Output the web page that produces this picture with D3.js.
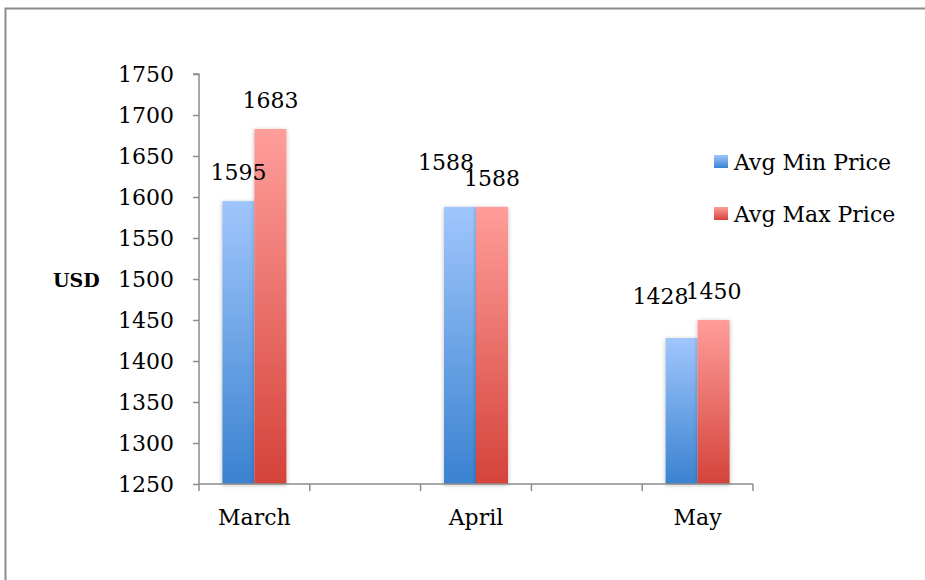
<!DOCTYPE html>
<html>
<head>
<meta charset="utf-8">
<script src="https://cdn.jsdelivr.net/npm/d3@7"></script>
<style>
  html, body { margin: 0; padding: 0; background: #fff; }
  svg { display: block; }
  text { font-family: "DejaVu Serif", "Liberation Serif", serif; fill: #000; }
</style>
</head>
<body>
<svg id="chart" width="925" height="580"></svg>
<script>
// Monthly price data (blank slots sit between the months on the axis)
const categories = ["March", "", "April", "", "May"];
const minPrice = [1595, null, 1588, null, 1428];
const maxPrice = [1683, null, 1588, null, 1450];
const seriesNames = ["Avg Min Price", "Avg Max Price"];
const yTicks = [1250, 1300, 1350, 1400, 1450, 1500, 1550, 1600, 1650, 1700, 1750];

const svg = d3.select("#chart");
const W = 925, H = 580;
const plot = { left: 199, right: 753, top: 74, bottom: 484 };
const FONT = '"DejaVu Serif", serif';

// Outer frame
svg.append("path")
  .attr("d", `M5.5,${H + 2} L5.5,8.5 L${W + 2},8.5`)
  .attr("fill", "none").attr("stroke", "#8c8c8c").attr("stroke-width", 2);

const defs = svg.append("defs");
function grad(id, top, bottom) {
  const g = defs.append("linearGradient").attr("id", id)
    .attr("x1", 0).attr("y1", 0).attr("x2", 0).attr("y2", 1);
  g.append("stop").attr("offset", "0%").attr("stop-color", top);
  g.append("stop").attr("offset", "100%").attr("stop-color", bottom);
}
grad("gMin", "#a0c6fc", "#3a82d0");
grad("gMax", "#ff9d9a", "#d4433a");
const f = defs.append("filter").attr("id", "shadow")
  .attr("x", "-30%").attr("y", "-10%").attr("width", "160%").attr("height", "120%");
f.append("feDropShadow").attr("dx", 0).attr("dy", 1).attr("stdDeviation", 2.2)
  .attr("flood-color", "#000").attr("flood-opacity", 0.28);

const x = d3.scaleBand().domain(d3.range(categories.length))
  .range([plot.left, plot.right]).paddingInner(0).paddingOuter(0);
const y = d3.scaleLinear().domain([1250, 1750]).range([plot.bottom, plot.top]);

const groupW = 64;
const x1 = d3.scaleBand().domain([0, 1]).range([0, groupW]);

const seriesData = [minPrice, maxPrice];
const fills = ["url(#gMin)", "url(#gMax)"];

// Bars
seriesData.forEach((vals, s) => {
  svg.append("g").selectAll("rect")
    .data(vals.map((v, i) => ({ v, i })).filter(d => d.v != null))
    .join("rect")
    .attr("x", d => x(d.i) + (x.bandwidth() - groupW) / 2 + x1(s))
    .attr("y", d => y(d.v))
    .attr("width", x1.bandwidth())
    .attr("height", d => plot.bottom - y(d.v))
    .attr("fill", fills[s])
    .attr("filter", "url(#shadow)");
});

// Y axis
const yAxis = svg.append("g").attr("transform", `translate(${plot.left},0)`)
  .call(d3.axisLeft(y).tickValues(yTicks).tickSize(6).tickPadding(19).tickFormat(d3.format("d")));
yAxis.attr("font-family", FONT);
yAxis.select(".domain").attr("stroke", "#8c8c8c").attr("stroke-width", 1.5)
  .attr("d", `M-6,${plot.top}H0V${plot.bottom}`);
yAxis.selectAll(".tick line").attr("stroke", "#8c8c8c").attr("stroke-width", 1.5);
yAxis.selectAll(".tick text").style("font-size", "22px").attr("dy", "0.36em")
  .style("font-family", FONT).attr("fill", "#000");

// X axis: boundary ticks at every slot edge
const edges = d3.range(categories.length + 1).map(i => plot.left + i * x.bandwidth());
svg.append("line").attr("x1", plot.left).attr("x2", plot.right)
  .attr("y1", plot.bottom).attr("y2", plot.bottom)
  .attr("stroke", "#8c8c8c").attr("stroke-width", 1.5);
svg.append("g").selectAll("line").data(edges).join("line")
  .attr("x1", d => d).attr("x2", d => d)
  .attr("y1", plot.bottom).attr("y2", plot.bottom + 7)
  .attr("stroke", "#8c8c8c").attr("stroke-width", 1.5);
svg.append("g").selectAll("text")
  .data(categories.map((c, i) => ({ c, i })).filter(d => d.c))
  .join("text")
  .attr("x", d => x(d.i) + x.bandwidth() / 2)
  .attr("y", 525)
  .attr("text-anchor", "middle")
  .style("font-size", "22px")
  .text(d => d.c);

// Y axis title
svg.append("text").attr("x", 53).attr("y", 287)
  .style("font-size", "19px").style("font-weight", "bold").text("USD");

// Value labels (small offsets keep neighbouring labels readable)
const labelNudge = [
  [{ dx: 0, dy: 0 }, null, { dx: -14, dy: -16 }, null, { dx: -21, dy: -13 }],
  [{ dx: 0, dy: 0 }, null, { dx: 0, dy: 0 }, null, { dx: 0, dy: 0 }]
];
seriesData.forEach((vals, s) => {
  svg.append("g").selectAll("text")
    .data(vals.map((v, i) => ({ v, i })).filter(d => d.v != null))
    .join("text")
    .attr("x", d => x(d.i) + (x.bandwidth() - groupW) / 2 + x1(s) + x1.bandwidth() / 2 + labelNudge[s][d.i].dx)
    .attr("y", d => y(d.v) - 21 + labelNudge[s][d.i].dy)
    .attr("text-anchor", "middle")
    .style("font-size", "22px")
    .text(d => d.v);
});

// Legend
const legend = svg.append("g");
seriesNames.forEach((name, s) => {
  const ly = 155 + s * 52;
  legend.append("rect").attr("x", 714).attr("y", ly).attr("width", 14).attr("height", 13)
    .attr("fill", fills[s]);
  legend.append("text").attr("x", 734).attr("y", ly + 15)
    .style("font-size", "22px").text(name);
});
</script>
</body>
</html>
